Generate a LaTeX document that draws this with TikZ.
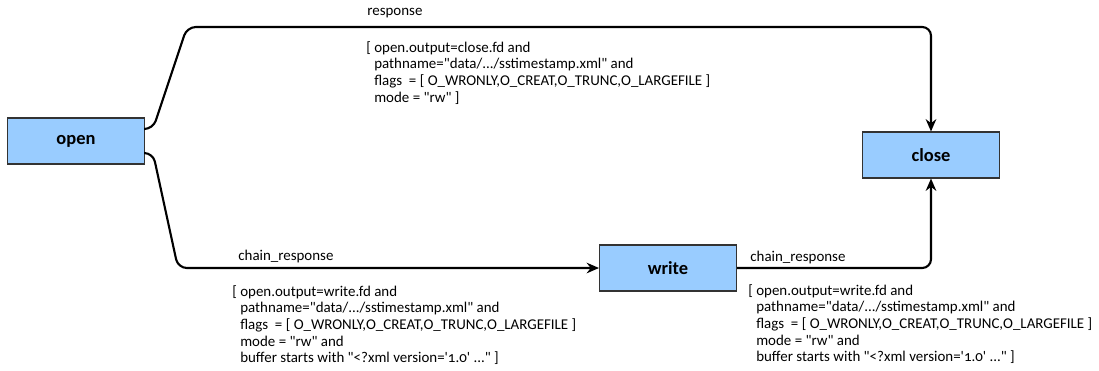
\documentclass[tikz,border=0pt]{standalone}
\usepackage{fontspec}
\newfontfamily\candfont{Carlito}[Numbers=OldStyle]
\usetikzlibrary{arrows.meta}
\definecolor{callblue}{HTML}{99CCFF}
\definecolor{callframe}{HTML}{333333}
\begin{document}
\begin{tikzpicture}[x=0.02cm, y=-0.02cm]
        \tikzstyle{call_node} = [shape = rectangle, draw = callframe, fill = callblue, line width=0.6pt, minimum width=2.74cm, minimum height=0.92cm, font=\candfont\fontsize{10.5}{12}\selectfont\bfseries]
        \tikzstyle{call_label} = [font=\candfont\fontsize{8.5}{9.5}\selectfont, inner sep=0pt]
        \tikzstyle{call_cond} = [call_label, align=left, anchor=north west]
        \tikzstyle{call_edge} = [-{Stealth[length=7pt, width=6pt]}, line width=1.2pt, rounded corners=5pt]

        \useasboundingbox (0,0) rectangle (1099,370);

        \node[call_node] at (76, 141) (open) {open};

        \node[call_node] at (931, 155) (close) {close};

        \node[call_node] at (668, 268) (write) {write};

        \node[call_label, anchor=west] at (367, 13) (resp_lbl) {response};

        \node[call_cond] at (366, 41) (resp_cond) {[ open.output=close.fd and\\
          \hphantom{[}~pathname="data/.../sstimestamp.xml" and\\
          \hphantom{[}~flags~ = [ O\_WRONLY,O\_CREAT,O\_TRUNC,O\_LARGEFILE ]\\
          \hphantom{[}~mode = "rw" ]};

        \node[call_label, anchor=west] at (238, 257) (chain1_lbl) {chain\_response};

        \node[call_cond] at (232, 285) (chain1_cond) {[ open.output=write.fd and\\
          \hphantom{[}~pathname="data/.../sstimestamp.xml" and\\
          \hphantom{[}~flags~ = [ O\_WRONLY,O\_CREAT,O\_TRUNC,O\_LARGEFILE ]\\
          \hphantom{[}~mode = "rw" and\\
          \hphantom{[}~buffer starts with "<?xml version='1.0' ..." ]};

        \node[call_label, anchor=west] at (750, 258) (chain2_lbl) {chain\_response};

        \node[call_cond] at (748, 284) (chain2_cond) {[ open.output=write.fd and\\
          \hphantom{[}~pathname="data/.../sstimestamp.xml" and\\
          \hphantom{[}~flags~ = [ O\_WRONLY,O\_CREAT,O\_TRUNC,O\_LARGEFILE ]\\
          \hphantom{[}~mode = "rw" and\\
          \hphantom{[}~buffer starts with "<?xml version='1.0' ..." ]};

        \draw[call_edge]
          ([yshift=0.24cm]open.east) -- ++(8,0) -- (187,27) -- (931,27) -- (close.north);

        \draw[call_edge]
          ([yshift=-0.24cm]open.east) -- ++(8,0) -- (178,268) -- (write.west);

        \draw[call_edge]
          (write.east) -| (close.south);
      \end{tikzpicture}
\end{document}
